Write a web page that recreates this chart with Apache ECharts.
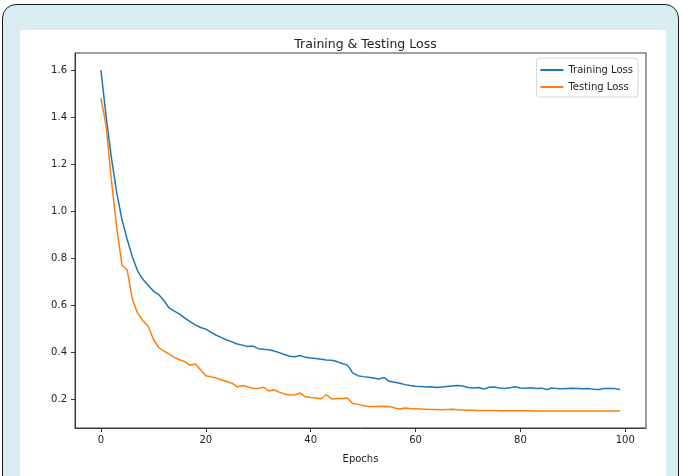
<!DOCTYPE html>
<html>
<head>
<meta charset="utf-8">
<script src="https://cdn.jsdelivr.net/npm/echarts@6/dist/echarts.min.js"></script>
<style>
  html, body { margin: 0; padding: 0; background: #ffffff; }
  .frame {
    position: absolute; left: 2px; top: 4px; width: 675px; height: 500px;
    background: #d8edf2; border: 1.5px solid #1e1e1e; border-radius: 14px;
  }
  .paper {
    position: absolute; left: 20px; top: 30px; width: 646px; height: 460px;
    background: #ffffff;
  }
  #mychart { position: absolute; left: 0; top: 0; width: 683px; height: 476px; }
</style>
</head>
<body>
<div class="frame"></div>
<div class="paper"></div>
<div id="mychart"></div>
<script>
var epochs = [];
for (var i = 0; i < 100; i++) epochs.push(i);

var trainLoss = [
  1.600, 1.400, 1.225, 1.080, 0.965, 0.880, 0.805, 0.745, 0.710, 0.685,
  0.660, 0.645, 0.620, 0.588, 0.575, 0.562, 0.545, 0.530, 0.516, 0.505,
  0.498, 0.484, 0.472, 0.462, 0.452, 0.444, 0.435, 0.430, 0.424, 0.426,
  0.415, 0.412, 0.410, 0.405, 0.398, 0.390, 0.383, 0.381, 0.386, 0.378,
  0.375, 0.373, 0.370, 0.367, 0.366, 0.360, 0.352, 0.345, 0.312, 0.300,
  0.296, 0.293, 0.290, 0.286, 0.292, 0.276, 0.272, 0.268, 0.262, 0.258,
  0.255, 0.254, 0.252, 0.253, 0.250, 0.252, 0.254, 0.256, 0.258, 0.256,
  0.250, 0.248, 0.250, 0.243, 0.251, 0.252, 0.248, 0.246, 0.249, 0.253,
  0.248, 0.247, 0.249, 0.246, 0.247, 0.241, 0.248, 0.245, 0.244, 0.246,
  0.247, 0.246, 0.244, 0.245, 0.242, 0.241, 0.246, 0.245, 0.245, 0.241
];

var testLoss = [
  1.480, 1.360, 1.130, 0.930, 0.770, 0.750, 0.625, 0.565, 0.535, 0.510,
  0.455, 0.420, 0.405, 0.392, 0.378, 0.368, 0.360, 0.344, 0.350, 0.325,
  0.300, 0.295, 0.290, 0.282, 0.275, 0.268, 0.252, 0.258, 0.253, 0.246,
  0.246, 0.251, 0.235, 0.240, 0.230, 0.222, 0.218, 0.219, 0.226, 0.210,
  0.207, 0.205, 0.202, 0.219, 0.201, 0.203, 0.203, 0.205, 0.182, 0.178,
  0.173, 0.169, 0.169, 0.169, 0.170, 0.169, 0.163, 0.158, 0.163, 0.160,
  0.159, 0.158, 0.157, 0.156, 0.156, 0.155, 0.156, 0.157, 0.155, 0.154,
  0.153, 0.153, 0.152, 0.152, 0.152, 0.152, 0.151, 0.151, 0.151, 0.151,
  0.151, 0.151, 0.151, 0.150, 0.150, 0.150, 0.150, 0.150, 0.150, 0.150,
  0.150, 0.150, 0.150, 0.150, 0.150, 0.150, 0.150, 0.150, 0.150, 0.150
];

var xTicks = [0, 20, 40, 60, 80, 100];
var yTicks = [0.2, 0.4, 0.6, 0.8, 1.0, 1.2, 1.4, 1.6];

function pairs(ys) {
  var out = [];
  for (var k = 0; k < ys.length; k++) out.push([epochs[k], ys[k]]);
  return out;
}

var font = 'DejaVu Sans';
var myChart = echarts.init(document.getElementById('mychart'));
var option = {
  animation: false,
  backgroundColor: 'transparent',
  textStyle: { fontFamily: font },
  title: {
    text: 'Training & Testing Loss',
    left: 360.5, top: 33, textAlign: 'center',
    textStyle: { fontFamily: font, fontSize: 12.5, fontWeight: 'normal', color: '#222' }
  },
  grid: {
    left: 75, top: 53, right: 37, bottom: 48,
    show: true, borderColor: '#3a3a3a', borderWidth: 1, backgroundColor: '#fff'
  },
  legend: {
    orient: 'vertical', right: 45, top: 58,
    data: ['Training Loss', 'Testing Loss'],
    icon: 'rect', itemWidth: 23, itemHeight: 2, itemGap: 7,
    padding: [7, 5, 5, 4],
    borderColor: '#d6d6d6', borderWidth: 1, borderRadius: 3,
    backgroundColor: '#fff',
    textStyle: { fontFamily: font, fontSize: 10, color: '#222' }
  },
  xAxis: {
    type: 'value', min: -4.95, max: 103.95,
    name: 'Epochs', nameLocation: 'middle', nameGap: 26,
    nameTextStyle: { fontFamily: font, fontSize: 10, color: '#222' },
    axisLine: { show: true, onZero: false, lineStyle: { color: '#3a3a3a', width: 1 } },
    splitLine: { show: false },
    axisTick: { show: true, length: 4, customValues: xTicks, lineStyle: { color: '#3a3a3a' } },
    axisLabel: { customValues: xTicks, fontFamily: font, fontSize: 10, color: '#222', margin: 7 }
  },
  yAxis: {
    type: 'value', min: 0.0775, max: 1.6725,
    axisLine: { show: true, onZero: false, lineStyle: { color: '#3a3a3a', width: 1 } },
    splitLine: { show: false },
    axisTick: { show: true, length: 4, customValues: yTicks, lineStyle: { color: '#3a3a3a' } },
    axisLabel: {
      customValues: yTicks, fontFamily: font, fontSize: 10, color: '#222', margin: 8,
      formatter: function (v) { return v.toFixed(1); }
    }
  },
  series: [
    {
      name: 'Training Loss', type: 'line', data: pairs(trainLoss),
      showSymbol: false, symbol: 'none',
      lineStyle: { color: '#1f77b4', width: 1.5 }, itemStyle: { color: '#1f77b4' }
    },
    {
      name: 'Testing Loss', type: 'line', data: pairs(testLoss),
      showSymbol: false, symbol: 'none',
      lineStyle: { color: '#ff7f0e', width: 1.5 }, itemStyle: { color: '#ff7f0e' }
    }
  ]
};
myChart.setOption(option);
</script>
</body>
</html>
